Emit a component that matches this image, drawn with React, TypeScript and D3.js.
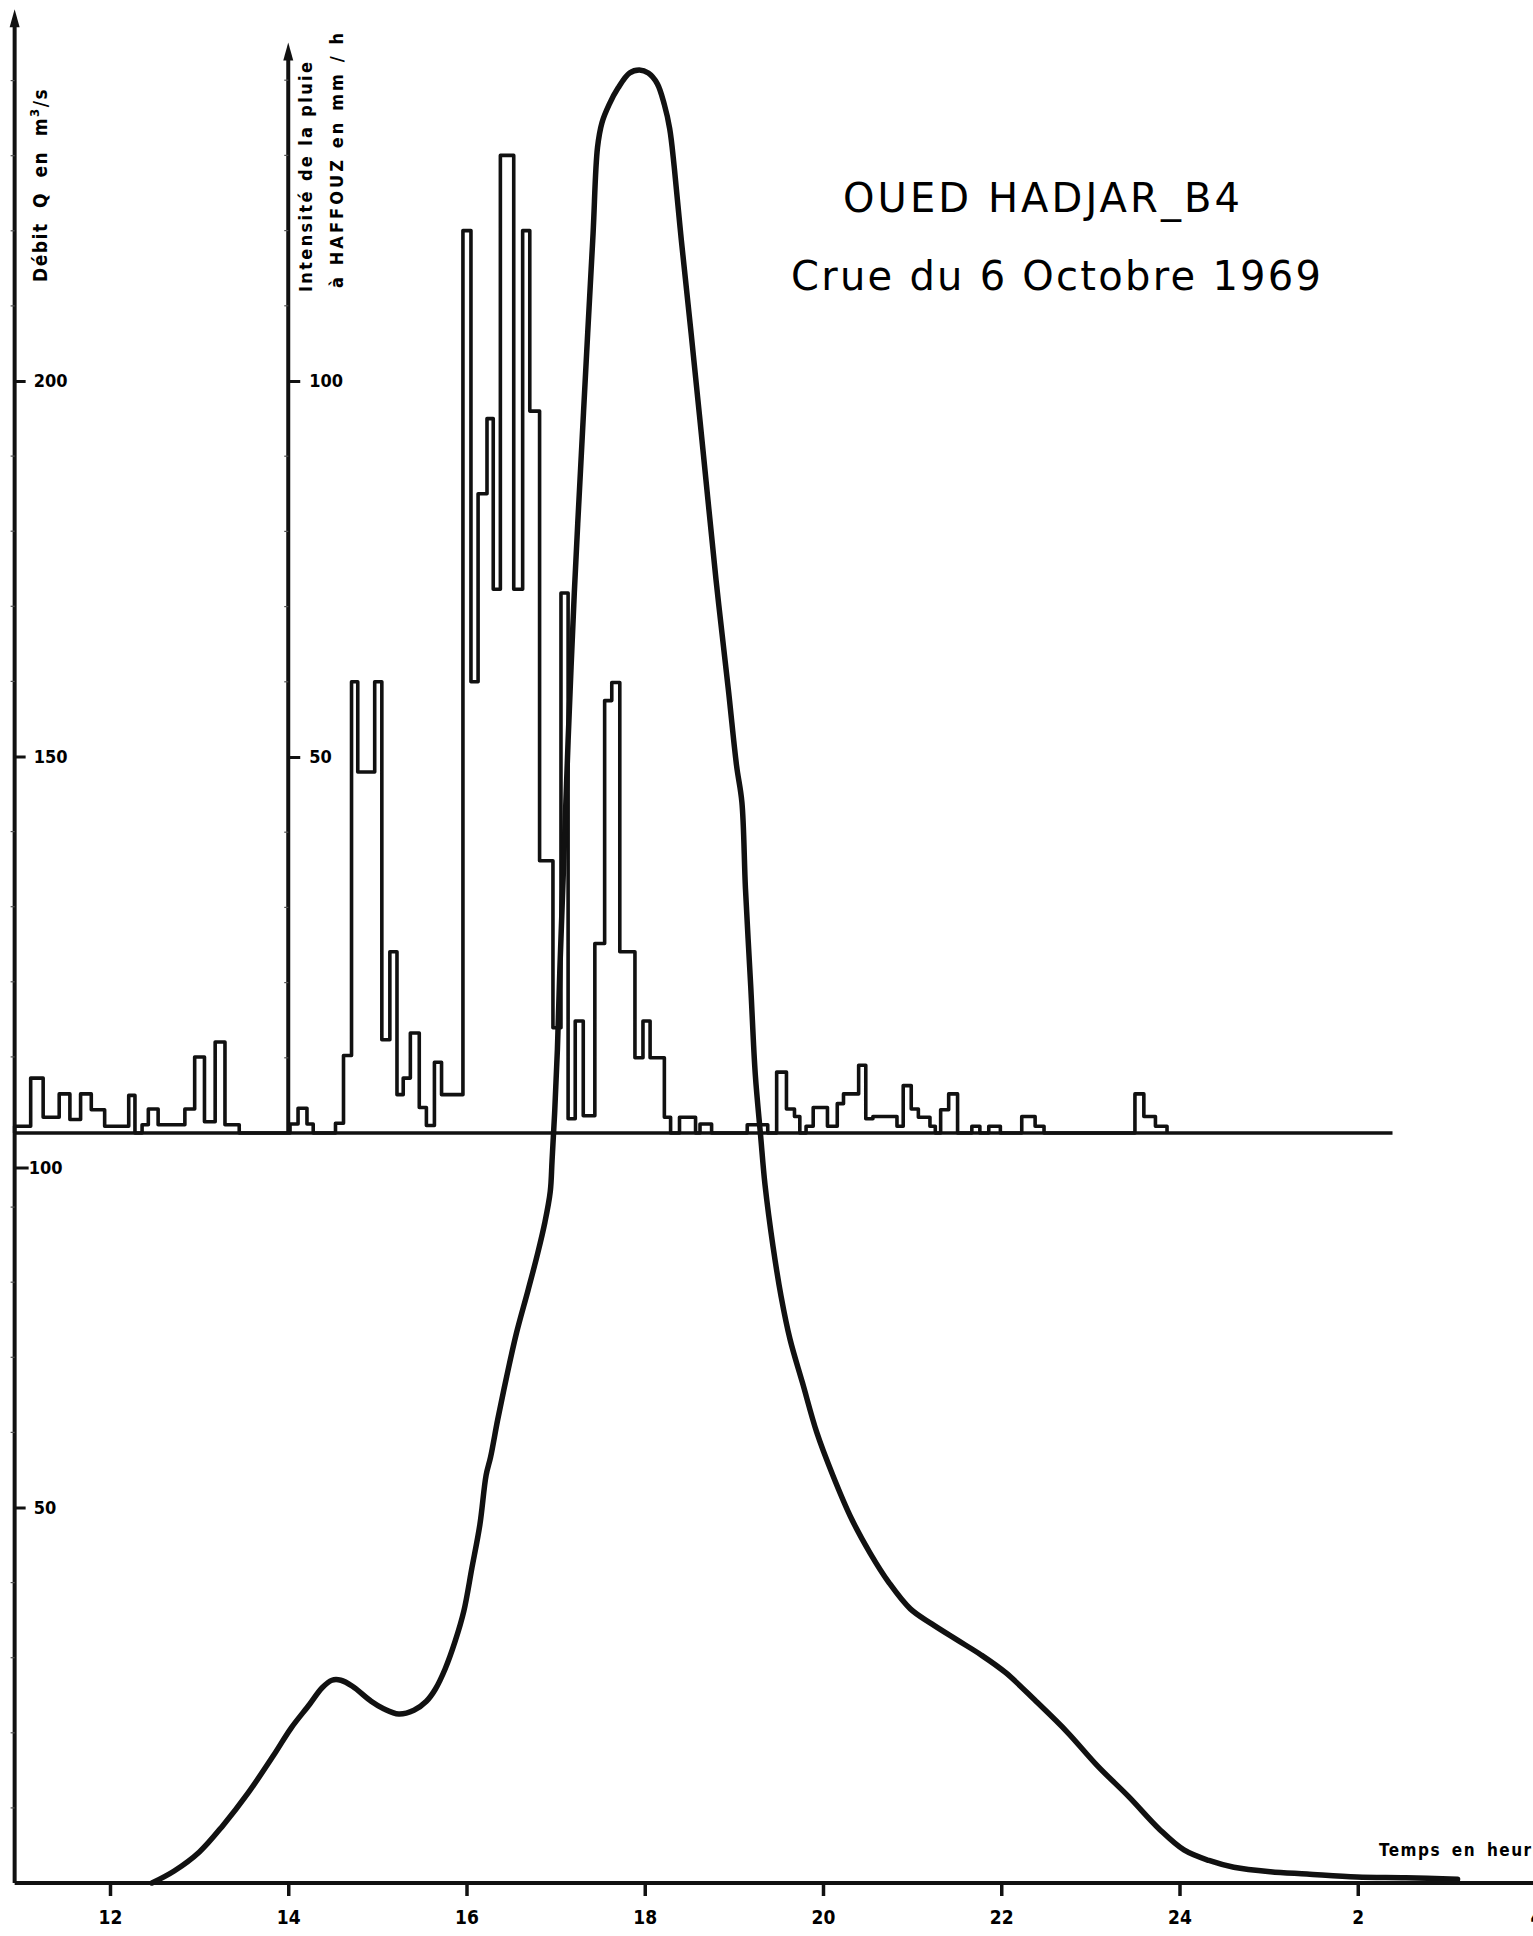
import React, { useEffect, useRef } from "react";
import * as d3 from "d3";

const width = 1533;
const height = 1936;

// time in decimal hours, 24 = midnight, 26 = 2h on the next day
const timeTicks = [12, 14, 16, 18, 20, 22, 24, 26, 28];
const timeTickLabels = ["12", "14", "16", "18", "20", "22", "24", "2", "4"];
const debitTicks = [50, 100, 150, 200];
const rainTicks = [50, 100];

// rain intensity at Haffouz (mm/h), each value holds from its time to the next one
const rainTime = [
  10.93, 10.93, 11.11, 11.25, 11.43, 11.55, 11.67, 11.79, 11.94, 12.21, 12.28,
  12.36, 12.43, 12.54, 12.84, 12.95, 13.06, 13.18, 13.29, 13.45, 14.02, 14.11,
  14.21, 14.28, 14.53, 14.62, 14.71, 14.78, 14.97, 15.05, 15.14, 15.22, 15.29,
  15.37, 15.47, 15.55, 15.64, 15.72, 15.96, 16.05, 16.13, 16.23, 16.3, 16.38,
  16.53, 16.63, 16.71, 16.82, 16.97, 17.06, 17.14, 17.22, 17.31, 17.44, 17.55,
  17.63, 17.72, 17.89, 17.98, 18.06, 18.22, 18.29, 18.39, 18.57, 18.62, 18.75,
  19.15, 19.38, 19.48, 19.59, 19.68, 19.74, 19.81, 19.89, 20.05, 20.16, 20.23,
  20.4, 20.48, 20.56, 20.83, 20.9, 20.99, 21.07, 21.2, 21.26, 21.32, 21.41,
  21.51, 21.67, 21.76, 21.86, 21.99, 22.23, 22.38, 22.48, 23.5, 23.6, 23.73,
  23.86,
];
const rainValue = [
  0, 0.9, 7.3, 2.1, 5.2, 1.8, 5.2, 3.1, 0.9, 5.0, 0,
  1.1, 3.2, 1.1, 3.2, 10.1, 1.5, 12.1, 1.1, 0, 1.2, 3.3,
  1.2, 0, 1.3, 10.3, 60, 48, 60, 12.4, 24.1, 5.1, 7.3,
  13.3, 3.4, 1.0, 9.4, 5.1, 120, 60, 85, 95, 72.3, 130,
  72.3, 120, 96, 36.2, 14, 71.8, 1.9, 14.9, 2.3, 25.2, 57.5,
  59.9, 24.1, 10, 14.9, 10, 2.1, 0, 2.1, 0, 1.2, 0,
  1.1, 0, 8.1, 3.2, 2.2, 0, 0.9, 3.4, 0.9, 3.9, 5.2,
  9.0, 1.9, 2.2, 0.9, 6.3, 3.2, 2.1, 0.9, 0, 3.1, 5.2,
  0, 0.9, 0, 0.9, 0, 2.2, 0.9, 0, 5.2, 2.2, 0.9,
  0,
];
const rainLineEnd = 26.39;

// discharge Q (m3/s)
const hydroTime = [
  12.47, 12.72, 13.0, 13.27, 13.55, 13.83, 14.03, 14.24, 14.38, 14.49, 14.59,
  14.72, 14.93, 15.07, 15.24, 15.41, 15.55, 15.65, 15.76, 15.87, 15.97, 16.06,
  16.15, 16.22, 16.27, 16.35, 16.45, 16.56, 16.69, 16.8, 16.88, 16.94, 16.96,
  16.99, 17.02, 17.05, 17.09, 17.14, 17.21, 17.28, 17.36, 17.42, 17.47, 17.52,
  17.6, 17.7, 17.83, 17.94, 18.04, 18.14, 18.22, 18.28, 18.33, 18.41, 18.52,
  18.66, 18.8, 18.94, 19.03, 19.09, 19.13, 19.19, 19.24, 19.3, 19.35, 19.44,
  19.53, 19.63, 19.77, 19.93, 20.11, 20.32, 20.53, 20.74, 20.98, 21.22, 21.5,
  21.77, 22.05, 22.39, 22.74, 23.08, 23.43, 23.78, 24.05, 24.33, 24.61, 25.02,
  25.43, 25.99, 26.54, 27.12,
];
const hydroQ = [
  0, 1.6, 4.1, 7.7, 12.0, 16.9, 20.6, 23.8, 26.0, 27.0, 27.0,
  26.2, 24.2, 23.2, 22.5, 23.0, 24.2, 25.8, 28.5, 32.1, 36.2, 41.9,
  47.7, 54.3, 56.7, 61.7, 67.4, 73.2, 78.9, 83.9, 88.0, 92.1, 96.2,
  102.8, 111.0, 122.5, 135.7, 152.1, 171.9, 188.3, 206.4, 219.6, 231.1, 234.4,
  236.8, 239.0, 241.0, 241.4, 241.0, 239.6, 236.8, 233.6, 228.6, 218.8, 206.4,
  190.0, 173.5, 158.7, 148.8, 143.9, 132.4, 119.2, 107.7, 99.5, 92.9, 84.7,
  78.1, 72.4, 66.6, 60.0, 54.3, 48.5, 43.9, 40.0, 36.5, 34.5, 32.4,
  30.4, 28.0, 24.2, 20.1, 15.6, 11.5, 7.1, 4.4, 3.0, 2.1, 1.5,
  1.2, 0.8, 0.7, 0.5,
];

const FONT = "'DejaVu Sans Condensed', 'DejaVu Sans', sans-serif";
const INK = "#111";

const App = () => {
  const ref = useRef<SVGSVGElement>(null);

  useEffect(() => {
    document.body.style.margin = "0";
    const svg = d3.select(ref.current);
    svg.selectAll("*").remove();

    const x = d3.scaleLinear().domain([12, 28]).range([110, 1536]);
    const q = d3.scaleLinear().domain([0, 200]).range([1883, 381]);
    const r = d3.scaleLinear().domain([0, 100]).range([1133, 381]);

    const leftX = x(rainTime[0]);
    const rainX = x(14);

    svg.append("rect").attr("width", width).attr("height", height).attr("fill", "#fff");

    // rain histogram
    const rainLine = d3
      .line<[number, number]>()
      .x((d) => x(d[0]))
      .y((d) => r(d[1]))
      .curve(d3.curveStepAfter);

    svg.append("path")
      .datum(d3.zip(rainTime, rainValue) as [number, number][])
      .attr("d", rainLine)
      .attr("fill", "none")
      .attr("stroke", INK)
      .attr("stroke-width", 3.6)
      .attr("stroke-linejoin", "round");

    svg.append("line")
      .attr("x1", leftX)
      .attr("x2", x(rainLineEnd))
      .attr("y1", r(0))
      .attr("y2", r(0))
      .attr("stroke", INK)
      .attr("stroke-width", 3.5);

    // hydrograph
    const hydroLine = d3
      .line<[number, number]>()
      .x((d) => x(d[0]))
      .y((d) => q(d[1]))
      .curve(d3.curveCatmullRom.alpha(0.5));

    svg.append("path")
      .datum(d3.zip(hydroTime, hydroQ) as [number, number][])
      .attr("d", hydroLine)
      .attr("fill", "none")
      .attr("stroke", INK)
      .attr("stroke-width", 5.5)
      .attr("stroke-linecap", "round");

    // time axis
    const xAxis = svg.append("g")
      .attr("transform", `translate(0,${q(0)})`)
      .call(
        d3.axisBottom(x)
          .tickValues(timeTicks)
          .tickFormat((d, i) => timeTickLabels[i])
          .tickSize(13)
          .tickPadding(15)
      );
    xAxis.select(".domain").remove();
    xAxis.attr("font-size", 19).attr("font-family", FONT).attr("font-weight", "bold");
    xAxis.selectAll("line").attr("stroke", INK).attr("stroke-width", 3.5);

    svg.append("line")
      .attr("x1", leftX)
      .attr("x2", width)
      .attr("y1", q(0))
      .attr("y2", q(0))
      .attr("stroke", INK)
      .attr("stroke-width", 4);

    svg.append("text")
      .attr("x", 1379)
      .attr("y", 1856)
      .attr("font-family", FONT)
      .attr("font-weight", "bold")
      .attr("font-size", 17)
      .attr("letter-spacing", 1.5)
      .attr("word-spacing", 4)
      .text("Temps en heures");

    // vertical axes with arrow heads
    const drawAxis = (ax: number, top: number, bottom: number) => {
      svg.append("line")
        .attr("x1", ax).attr("x2", ax)
        .attr("y1", top + 10).attr("y2", bottom)
        .attr("stroke", INK).attr("stroke-width", 4);
      svg.append("path")
        .attr("d", `M${ax},${top} L${ax - 5},${top + 18} L${ax + 5},${top + 18} Z`)
        .attr("fill", INK);
    };
    drawAxis(leftX, q(249.5), q(0));
    drawAxis(rainX, r(145), r(0));

    // faint minor ticks
    svg.append("g")
      .selectAll("line")
      .data(d3.range(10, 250, 10).filter((v) => v % 50 !== 0))
      .join("line")
      .attr("x1", leftX - 4).attr("x2", leftX)
      .attr("y1", (d) => q(d)).attr("y2", (d) => q(d))
      .attr("stroke", "#555").attr("stroke-width", 1.2);
    svg.append("g")
      .selectAll("line")
      .data(d3.range(10, 145, 10).filter((v) => v % 50 !== 0))
      .join("line")
      .attr("x1", rainX - 4).attr("x2", rainX)
      .attr("y1", (d) => r(d)).attr("y2", (d) => r(d))
      .attr("stroke", "#555").attr("stroke-width", 1.2);

    const qAxis = svg.append("g")
      .attr("transform", `translate(${leftX},0)`)
      .call(d3.axisRight(q).tickValues(debitTicks).tickSize(11).tickPadding(8));
    qAxis.select(".domain").remove();
    qAxis.attr("font-size", 18).attr("font-family", FONT).attr("font-weight", "bold");
    qAxis.selectAll("line").attr("stroke", INK).attr("stroke-width", 3);
    // the 100 mark was set just under the rain base line
    qAxis.selectAll<SVGGElement, number>(".tick")
      .filter((d) => d === 100)
      .attr("transform", (d) => `translate(0,${q(d) + 36})`)
      .call((g) => g.select("text").attr("x", 14))
      .call((g) => g.select("line").attr("x2", 14));

    const rAxis = svg.append("g")
      .attr("transform", `translate(${rainX},0)`)
      .call(d3.axisRight(r).tickValues(rainTicks).tickSize(12).tickPadding(9));
    rAxis.select(".domain").remove();
    rAxis.attr("font-size", 18).attr("font-family", FONT).attr("font-weight", "bold");
    rAxis.selectAll("line").attr("stroke", INK).attr("stroke-width", 3);

    // axis titles
    const qTitle = svg.append("text")
      .attr("transform", "translate(47,282) rotate(-90)")
      .attr("font-family", FONT)
      .attr("font-weight", "bold")
      .attr("font-size", 19)
      .attr("letter-spacing", 1.5)
      .attr("word-spacing", 7);
    qTitle.append("tspan").text("Débit Q en m");
    qTitle.append("tspan").attr("dy", -8).attr("font-size", 13).text("3");
    qTitle.append("tspan").attr("dy", 8).text("/s");

    svg.append("text")
      .attr("transform", "translate(312,292) rotate(-90)")
      .attr("font-family", FONT)
      .attr("font-weight", "bold")
      .attr("font-size", 18)
      .attr("textLength", 230)
      .attr("lengthAdjust", "spacing")
      .text("Intensité de la pluie");
    svg.append("text")
      .attr("transform", "translate(343,288) rotate(-90)")
      .attr("font-family", FONT)
      .attr("font-weight", "bold")
      .attr("font-size", 18)
      .attr("textLength", 255)
      .attr("lengthAdjust", "spacing")
      .text("à HAFFOUZ en mm / h");

    // title
    svg.append("text")
      .attr("x", 843)
      .attr("y", 212)
      .attr("font-family", "'DejaVu Sans', sans-serif")
      .attr("font-size", 40)
      .attr("textLength", 397)
      .attr("lengthAdjust", "spacing")
      .text("OUED HADJAR_B4");
    svg.append("text")
      .attr("x", 791)
      .attr("y", 290)
      .attr("font-family", "'DejaVu Sans', sans-serif")
      .attr("font-size", 40)
      .attr("textLength", 530)
      .attr("lengthAdjust", "spacing")
      .text("Crue du 6 Octobre 1969");
  }, []);

  return <svg ref={ref} width={width} height={height} style={{ display: "block" }} />;
};

export default App;
